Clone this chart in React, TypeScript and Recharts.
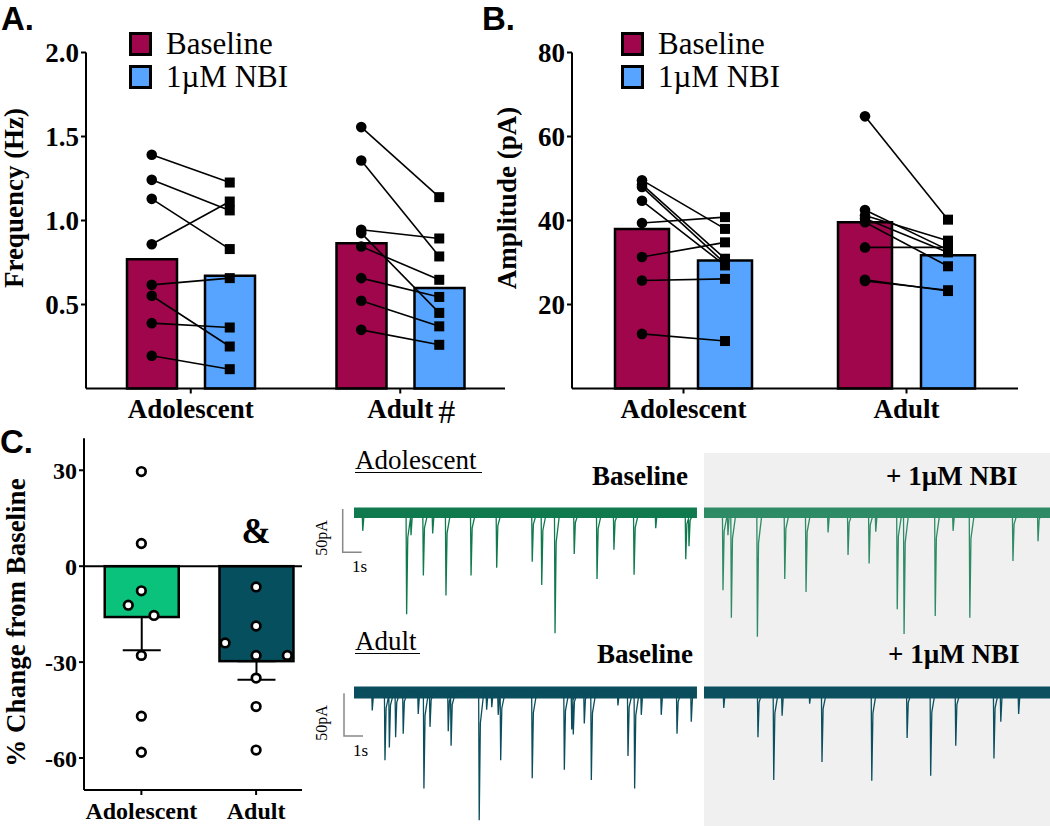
import {
  ComposedChart, Bar, Scatter, XAxis, YAxis, Legend, ReferenceLine, ReferenceDot,
  ReferenceArea, ErrorBar, Cell, LineChart, Line,
} from "recharts";

const SERIF = '"Liberation Serif", "Times New Roman", serif';
const SANS = '"Liberation Sans", "Open Sans", sans-serif';
const BASE_RED = "#A0064B";
const NBI_BLUE = "#56A4FF";
const ADOL_GREEN = "#0AC27B";
const ADULT_TEAL = "#064F5F";

const groups = ["Adolescent", "Adult"];
const conditions = ["Baseline", "1µM NBI"];

// A. frequency (Hz)
const freqBaselineMean = [0.77, 0.865];
const freqNbiMean = [0.671, 0.598];
const freqAdolBaseline = [1.391, 1.242, 1.129, 0.859, 0.617, 0.552, 0.389, 0.195];
const freqAdolNbi = [1.226, 1.06, 0.83, 1.113, 0.657, 0.25, 0.363, 0.115];
const freqAdultBaseline = [1.556, 1.357, 0.945, 0.925, 0.845, 0.657, 0.522, 0.349];
const freqAdultNbi = [1.139, 0.786, 0.893, 0.45, 0.647, 0.545, 0.37, 0.26];
const freqTicks = [0.5, 1.0, 1.5, 2.0];

// B. amplitude (pA)
const ampBaselineMean = [38.0, 39.6];
const ampNbiMean = [30.5, 31.7];
const ampAdolBaseline = [49.6, 48.6, 48.0, 44.7, 39.4, 31.3, 25.7, 13.0];
const ampAdolNbi = [38.0, 30.9, 29.8, 29.3, 40.8, 34.8, 26.1, 11.3];
const ampAdultBaseline = [64.8, 42.5, 41.2, 40.5, 39.6, 33.6, 25.9, 25.6];
const ampAdultNbi = [40.2, 33.0, 35.2, 32.4, 29.1, 33.6, 23.2, 23.4];
const ampTicks = [20, 40, 60, 80];

// C. % change from baseline
const changeMean = [-15.9, -29.7];
const changeSemDown = [10.4, 5.8];
const changeAdol = [29.6, 7.1, -7.7, -12.2, -15.4, -27.9, -46.9, -58.2];
const changeAdolJitter = [0, 0, 0, -0.114, 0.11, 0, 0, 0];
const changeAdult = [-6.5, -18.7, -24.0, -27.9, -27.9, -35.0, -43.9, -57.5];
const changeAdultJitter = [0, 0, -0.27, 0, 0.272, 0, 0, 0];
const changeTicks = [-60, -30, 0, 30];

// sEPSC traces: [time in s from segment start, amplitude pA]
const segStart = [0, 18.42];
const segEnd = [18.05, 36.63];
const adolBaseSpikes = [
  [0.46, 22], [2.77, 119], [3.0, 27], [3.65, 74], [4.14, 25], [4.84, 97], [6.16, 74], [7.51, 65],
  [9.38, 58], [9.88, 85], [10.58, 141], [11.59, 49], [12.79, 78], [13.68, 44], [14.74, 73],
  [15.88, 19], [17.46, 55], [17.63, 40],
];
const adolNbiSpikes = [
  [1.0, 91], [1.26, 27], [1.44, 123], [2.81, 145], [4.25, 78], [5.37, 93], [6.53, 24], [7.58, 50],
  [8.69, 60], [9.04, 23], [10.17, 113], [10.53, 142], [12.17, 121], [13.11, 22], [13.99, 123],
  [16.26, 57], [17.58, 34],
];
const adultBaseSpikes = [
  [0.96, 23], [1.63, 81], [1.86, 66], [2.19, 54], [2.59, 50], [3.38, 27], [3.68, 114], [4.0, 42],
  [4.96, 47], [5.11, 64], [6.59, 151], [6.98, 22], [7.25, 19], [7.59, 28], [7.72, 81], [9.38, 102],
  [11.07, 92], [11.46, 45], [11.54, 51], [12.12, 38], [12.49, 104], [13.89, 17], [14.42, 76],
  [14.77, 114], [15.12, 28], [16.17, 28], [17.0, 50], [17.75, 36],
];
const adultNbiSpikes = [
  [1.04, 20], [2.84, 54], [3.67, 104], [4.11, 29], [5.56, 15], [6.21, 83], [8.83, 105],
  [10.69, 55], [11.93, 99], [13.25, 64], [15.26, 79], [15.62, 36], [16.56, 27],
];

const tickFont = { fill: "#000", fontFamily: SERIF, fontWeight: 700, fontSize: 27 };
const axisStroke = { stroke: "#000", strokeWidth: 2 };

const yTitle = (text: string, x: number, y: number, size: number) => () => (
  <text x={x} y={y} transform={`rotate(-90 ${x} ${y})`} textAnchor="middle"
    fontFamily={SERIF} fontWeight={700} fontSize={size} fill="#000">{text}</text>
);

const PairMark = (p: any) => {
  if (p.cx == null || p.cy == null) return <g />;
  if (p.payload.kind === "nbi") return <rect x={p.cx - 5} y={p.cy - 5} width={10} height={10} fill="#000" />;
  return <circle cx={p.cx} cy={p.cy} r={5.3} fill="#000" />;
};

const legendBox = () => (
  <div style={{ fontFamily: SERIF, fontSize: 31, lineHeight: "33px", color: "#000" }}>
    {conditions.map((name, i) => (
      <div key={name} style={{ display: "flex", alignItems: "center", height: 33 }}>
        <span style={{ display: "inline-block", width: 17, height: 18, border: "3px solid #000",
          background: i === 0 ? BASE_RED : NBI_BLUE, marginRight: 14 }} />
        {name}
      </div>
    ))}
  </div>
);

const catTick = (hash: boolean) => (p: any) => (
  <g>
    <text x={p.x} y={p.y} dy="0.71em" textAnchor="middle" {...tickFont}>{p.payload.value}</text>
    {hash && p.payload.value === "Adult" && (
      <text x={p.x + 38} y={p.y} dy="0.71em" fontFamily={SERIF} fontSize={34} fill="#000">#</text>
    )}
  </g>
);

function PairedPanel(props: {
  left: number; width: number; plotLeft: number; plotRight: number; yMax: number;
  ticks: number[]; decimals: number; baseMeans: number[]; nbiMeans: number[];
  points: number[][][]; title: string; titleX: number; barSize: number; barGap: number;
  legendLeft: number; hash: boolean;
}) {
  const { left, width, plotLeft, plotRight, yMax, ticks, decimals, baseMeans, nbiMeans, points,
    title, titleX, barSize, barGap, legendLeft, hash } = props;
  const band = (plotRight - plotLeft) / 2;
  const off = (barSize + barGap) / 2 / band;
  const table = groups.map((g, i) => ({ group: g, baseline: baseMeans[i], nbi: nbiMeans[i] }));
  const pairs: any[] = [];
  points.forEach(([base, nbi], gi) => {
    base.forEach((v, j) => {
      pairs.push([
        { x: gi + 0.5 - off, y: v, kind: "base" },
        { x: gi + 0.5 + off, y: nbi[j], kind: "nbi" },
      ]);
    });
  });
  return (
    <div style={{ position: "absolute", left, top: 0 }}>
      <ComposedChart width={width} height={432} data={table} barGap={barGap}
        margin={{ top: 52.5, right: left + width - plotRight, bottom: 0, left: 0 }}>
        <XAxis xAxisId="cat" dataKey="group" height={43.5} tickSize={5} tickMargin={5}
          axisLine={axisStroke} tickLine={axisStroke} tick={catTick(hash)} />
        <XAxis xAxisId="num" type="number" dataKey="x" domain={[0, 2]} hide />
        <YAxis width={plotLeft - left} domain={[0, yMax]} ticks={ticks} tickSize={5} tickMargin={2}
          tickFormatter={(v) => Number(v).toFixed(decimals)} axisLine={axisStroke} tickLine={axisStroke}
          tick={tickFont} label={yTitle(title, titleX, 198, 27)} />
        <Legend layout="vertical" align="center" verticalAlign="middle" content={legendBox}
          wrapperStyle={{ left: legendLeft, top: 27, width: "auto" }} />
        <Bar xAxisId="cat" dataKey="baseline" fill={BASE_RED} stroke="#000" strokeWidth={2.5}
          barSize={barSize} isAnimationActive={false} />
        <Bar xAxisId="cat" dataKey="nbi" fill={NBI_BLUE} stroke="#000" strokeWidth={2.5}
          barSize={barSize} isAnimationActive={false} />
        {pairs.map((pair, k) => (
          <Scatter key={k} xAxisId="num" data={pair} dataKey="y" shape={PairMark} legendType="none"
            line={{ stroke: "#000", strokeWidth: 1.6 }} lineType="joint" isAnimationActive={false} />
        ))}
      </ComposedChart>
    </div>
  );
}

const HollowDot = (p: any) =>
  p.cx == null ? <g /> : <circle cx={p.cx} cy={p.cy} r={4.3} fill="#fff" stroke="#000" strokeWidth={2.7} />;

// bar drawn at a fixed 74px width around the centre Recharts computes
const WideBar = (p: any) => {
  const w = 74;
  const y0 = Math.min(p.y, p.y + p.height);
  return <rect x={p.x + p.width / 2 - w / 2} y={y0} width={w} height={Math.abs(p.height)}
    fill={p.fill} stroke="#000" strokeWidth={2.5} />;
};

function ChangePanel() {
  const table = groups.map((g, i) => ({ x: i + 1, mean: changeMean[i], err: [changeSemDown[i], 0] }));
  const dots = [
    ...changeAdol.map((v, j) => ({ x: 1 + changeAdolJitter[j], y: v })),
    ...changeAdult.map((v, j) => ({ x: 2 + changeAdultJitter[j], y: v })),
  ];
  return (
    <div style={{ position: "absolute", left: 0, top: 420 }}>
      <ComposedChart width={320} height={406} data={table}
        margin={{ top: 18.3, right: 18, bottom: 0, left: 0 }}>
        <XAxis type="number" dataKey="x" domain={[0.5, 2.4]} ticks={[1, 2]} tickCount={2} height={36}
          tickFormatter={(v) => groups[v - 1]} tickSize={5} tickMargin={7}
          axisLine={axisStroke} tickLine={axisStroke} tick={{ ...tickFont, fontSize: 24 }} />
        <YAxis width={84} domain={[-70, 40]} ticks={changeTicks} tickSize={5} tickMargin={2}
          axisLine={axisStroke} tickLine={axisStroke} tick={{ ...tickFont, fontSize: 24 }}
          label={yTitle("% Change from Baseline", 24.5, 202.5, 27)} />
        <Bar dataKey="mean" barSize={74} shape={WideBar} isAnimationActive={false}>
          {table.map((_, i) => <Cell key={i} fill={i === 0 ? ADOL_GREEN : ADULT_TEAL} />)}
          <ErrorBar dataKey="err" direction="y" width={19} stroke="#000" strokeWidth={2} />
        </Bar>
        <ReferenceLine y={0} stroke="#000" strokeWidth={2} />
        <Scatter data={dots} dataKey="y" shape={HollowDot} isAnimationActive={false} />
        <ReferenceDot x={2} y={7.2} r={0} shape={(p: any) => (
          <text x={p.cx} y={p.cy} textAnchor="middle" fontFamily={SERIF} fontWeight={700}
            fontSize={35} fill="#000">&amp;</text>
        )} />
      </ComposedChart>
    </div>
  );
}

function buildSegment(spikes: number[][], s: number) {
  const pts: { t: number; v: number }[] = [{ t: segStart[s], v: 0 }];
  spikes.forEach(([t, a]) => {
    const at = segStart[s] + t;
    pts.push({ t: at - 0.03, v: 0 }, { t: at, v: -a }, { t: at + 0.06, v: -a * 0.25 }, { t: at + 0.25, v: 0 });
  });
  pts.push({ t: segEnd[s], v: 0 });
  return pts;
}

function Trace(props: { top: number; height: number; yMin: number; band: number[];
  spikes: number[][][]; colors: string[] }) {
  const { top, height, yMin, band, spikes, colors } = props;
  return (
    <div style={{ position: "absolute", left: 354, top }}>
      <LineChart width={696} height={height} margin={{ top: 0, right: 0, bottom: 0, left: 0 }}>
        <XAxis type="number" dataKey="t" domain={[0, segEnd[1]]} hide />
        <YAxis domain={[yMin, 15]} hide />
        {spikes.map((_, s) => (
          <ReferenceArea key={s} x1={segStart[s]} x2={segEnd[s]} y1={band[0]} y2={band[1]}
            fill={colors[s]} fillOpacity={1} stroke="none" />
        ))}
        {spikes.map((sp, s) => (
          <Line key={s} data={buildSegment(sp, s)} dataKey="v" stroke={colors[s]} strokeWidth={1.3}
            dot={false} type="linear" isAnimationActive={false} />
        ))}
      </LineChart>
    </div>
  );
}

const Overlay = () => (
  <svg width={1050} height={826} style={{ position: "absolute", left: 0, top: 0, pointerEvents: "none" }}>
    <g fontFamily={SANS} fontWeight={700} fontSize={33} fill="#000">
      <text x={1} y={30}>A.</text>
      <text x={482} y={30}>B.</text>
      <text x={0} y={453}>C.</text>
    </g>
    <g fontFamily={SERIF} fill="#000">
      <text x={355} y={469} fontSize={27}>Adolescent</text>
      <line x1={355} x2={482} y1={472.5} y2={472.5} stroke="#000" strokeWidth={1.2} />
      <text x={592} y={485} fontSize={27} fontWeight={700}>Baseline</text>
      <text x={886} y={485} fontSize={27} fontWeight={700}>+ 1µM NBI</text>
      <text x={355} y={650} fontSize={27}>Adult</text>
      <line x1={355} x2={420} y1={653.5} y2={653.5} stroke="#000" strokeWidth={1.2} />
      <text x={597} y={663} fontSize={27} fontWeight={700}>Baseline</text>
      <text x={888} y={663} fontSize={27} fontWeight={700}>+ 1µM NBI</text>
      <text x={327} y={538} fontSize={16} textAnchor="middle" transform="rotate(-90 327 538)">50pA</text>
      <text x={352} y={572} fontSize={17}>1s</text>
      <text x={327} y={723} fontSize={16} textAnchor="middle" transform="rotate(-90 327 723)">50pA</text>
      <text x={353} y={756} fontSize={17}>1s</text>
    </g>
    <g stroke="#888" strokeWidth={1.5} fill="none">
      <polyline points="342.7,509 342.7,552.3 361.7,552.3" />
      <polyline points="344,693.3 344,736 363,736" />
    </g>
  </svg>
);

export default function App() {
  return (
    <div style={{ position: "absolute", left: 0, top: 0, width: 1050, height: 826, background: "#fff", overflow: "hidden" }}>
      <div style={{ position: "absolute", left: 704, top: 453, width: 346, height: 373, background: "#f0f0f0" }} />
      <PairedPanel left={0} width={520} plotLeft={86} plotRight={505} yMax={2} ticks={freqTicks} decimals={1}
        baseMeans={freqBaselineMean} nbiMeans={freqNbiMean}
        points={[[freqAdolBaseline, freqAdolNbi], [freqAdultBaseline, freqAdultNbi]]}
        title="Frequency (Hz)" titleX={23} barSize={50} barGap={28} legendLeft={129} hash={true} />
      <PairedPanel left={480} width={560} plotLeft={572} plotRight={1018} yMax={80} ticks={ampTicks} decimals={0}
        baseMeans={ampBaselineMean} nbiMeans={ampNbiMean}
        points={[[ampAdolBaseline, ampAdolNbi], [ampAdultBaseline, ampAdultNbi]]}
        title="Amplitude (pA)" titleX={36} barSize={54} barGap={29} legendLeft={141} hash={false} />
      <ChangePanel />
      <Trace top={499} height={142} yMin={-150} band={[-7, 5]}
        spikes={[adolBaseSpikes, adolNbiSpikes]} colors={["#107A4E", "#2E8B66"]} />
      <Trace top={678} height={150} yMin={-160} band={[-9, 5]}
        spikes={[adultBaseSpikes, adultNbiSpikes]} colors={["#0A4D5C", "#0C5060"]} />
      <Overlay />
    </div>
  );
}
